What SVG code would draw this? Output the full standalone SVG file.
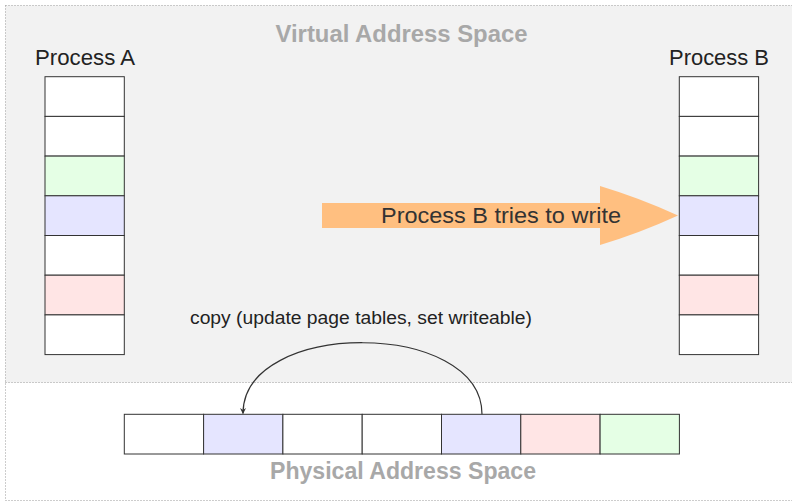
<svg xmlns="http://www.w3.org/2000/svg" width="792" height="502" viewBox="0 0 792 502">
  <style>
    .cell { stroke: #333; stroke-width: 1; }
    .white { fill: #ffffff; }
    .green { fill: #e5ffe5; }
    .blue { fill: #e5e5ff; }
    .red { fill: #ffe5e5; }
    .label { font-family: "Liberation Sans", Arial, sans-serif; fill: #222; }
    .area { font-family: "Liberation Sans", Arial, sans-serif; font-weight: bold; fill: #a8a8a8; font-size: 23px; }
    .border { fill: none; stroke: #9a9a9a; stroke-width: 1; stroke-dasharray: 1 2; }
    .link { fill: none; stroke: #333; stroke-width: 1.2; }
  </style>
  <defs>
    <marker id="tip" viewBox="0 0 10 10" refX="9" refY="5" markerWidth="6" markerHeight="6" orient="auto" markerUnits="userSpaceOnUse">
      <path d="M0,0 L10,5 L0,10 L3,5 Z" fill="#333"/>
    </marker>
  </defs>

  <!-- virtual address space background -->
  <rect x="5.5" y="5.5" width="800" height="377" fill="#f2f2f2"/>
  <path class="border" d="M5.5,5.5 H792 M5.5,5.5 V500.5 H792 M5.5,382.5 H792"/>

  <text class="area" x="401.5" y="42.3" text-anchor="middle" textLength="252" lengthAdjust="spacingAndGlyphs">Virtual Address Space</text>
  <text class="area" x="403" y="479" text-anchor="middle" textLength="266" lengthAdjust="spacingAndGlyphs">Physical Address Space</text>

  <!-- page table of process A -->
  <g id="processA">
    <text class="label" x="85" y="65" font-size="22" text-anchor="middle" textLength="100" lengthAdjust="spacingAndGlyphs">Process A</text>
    <rect class="cell white" x="45" y="76.7" width="79.3" height="39.7"/>
    <rect class="cell white" x="45" y="116.4" width="79.3" height="39.7"/>
    <rect class="cell green" x="45" y="156.1" width="79.3" height="39.7"/>
    <rect class="cell blue" x="45" y="195.8" width="79.3" height="39.7"/>
    <rect class="cell white" x="45" y="235.5" width="79.3" height="39.7"/>
    <rect class="cell red" x="45" y="275.2" width="79.3" height="39.7"/>
    <rect class="cell white" x="45" y="314.9" width="79.3" height="39.7"/>
  </g>

  <!-- page table of process B -->
  <g id="processB">
    <text class="label" x="719" y="65" font-size="22" text-anchor="middle" textLength="100" lengthAdjust="spacingAndGlyphs">Process B</text>
    <rect class="cell white" x="679.3" y="76.7" width="79.3" height="39.7"/>
    <rect class="cell white" x="679.3" y="116.4" width="79.3" height="39.7"/>
    <rect class="cell green" x="679.3" y="156.1" width="79.3" height="39.7"/>
    <rect class="cell blue" x="679.3" y="195.8" width="79.3" height="39.7"/>
    <rect class="cell white" x="679.3" y="235.5" width="79.3" height="39.7"/>
    <rect class="cell red" x="679.3" y="275.2" width="79.3" height="39.7"/>
    <rect class="cell white" x="679.3" y="314.9" width="79.3" height="39.7"/>
  </g>

  <!-- physical frames -->
  <g id="physical">
    <rect class="cell white" x="124.3" y="414.3" width="79.3" height="39.7"/>
    <rect class="cell blue" x="203.6" y="414.3" width="79.3" height="39.7"/>
    <rect class="cell white" x="282.9" y="414.3" width="79.3" height="39.7"/>
    <rect class="cell white" x="362.2" y="414.3" width="79.3" height="39.7"/>
    <rect class="cell blue" x="441.5" y="414.3" width="79.3" height="39.7"/>
    <rect class="cell red" x="520.8" y="414.3" width="79.3" height="39.7"/>
    <rect class="cell green" x="600.1" y="414.3" width="79.3" height="39.7"/>
  </g>

  <!-- write attempt -->
  <g id="write">
    <path d="M322,203 H600 V186 Q640,198 678,215.5 Q640,233 600,245 V228 H322 Z" fill="#ffbf80"/>
    <text class="label" x="501" y="223.3" font-size="22" style="fill:#333" text-anchor="middle" textLength="240" lengthAdjust="spacingAndGlyphs">Process B tries to write</text>
  </g>

  <!-- copy connector -->
  <g id="connectors">
    <path class="link" d="M482,414.3 C482,319 243,319 243,413.5" marker-end="url(#tip)"/>
    <text class="label" x="361" y="324" font-size="17.5" text-anchor="middle" textLength="342" lengthAdjust="spacingAndGlyphs">copy (update page tables, set writeable)</text>
  </g>
</svg>
